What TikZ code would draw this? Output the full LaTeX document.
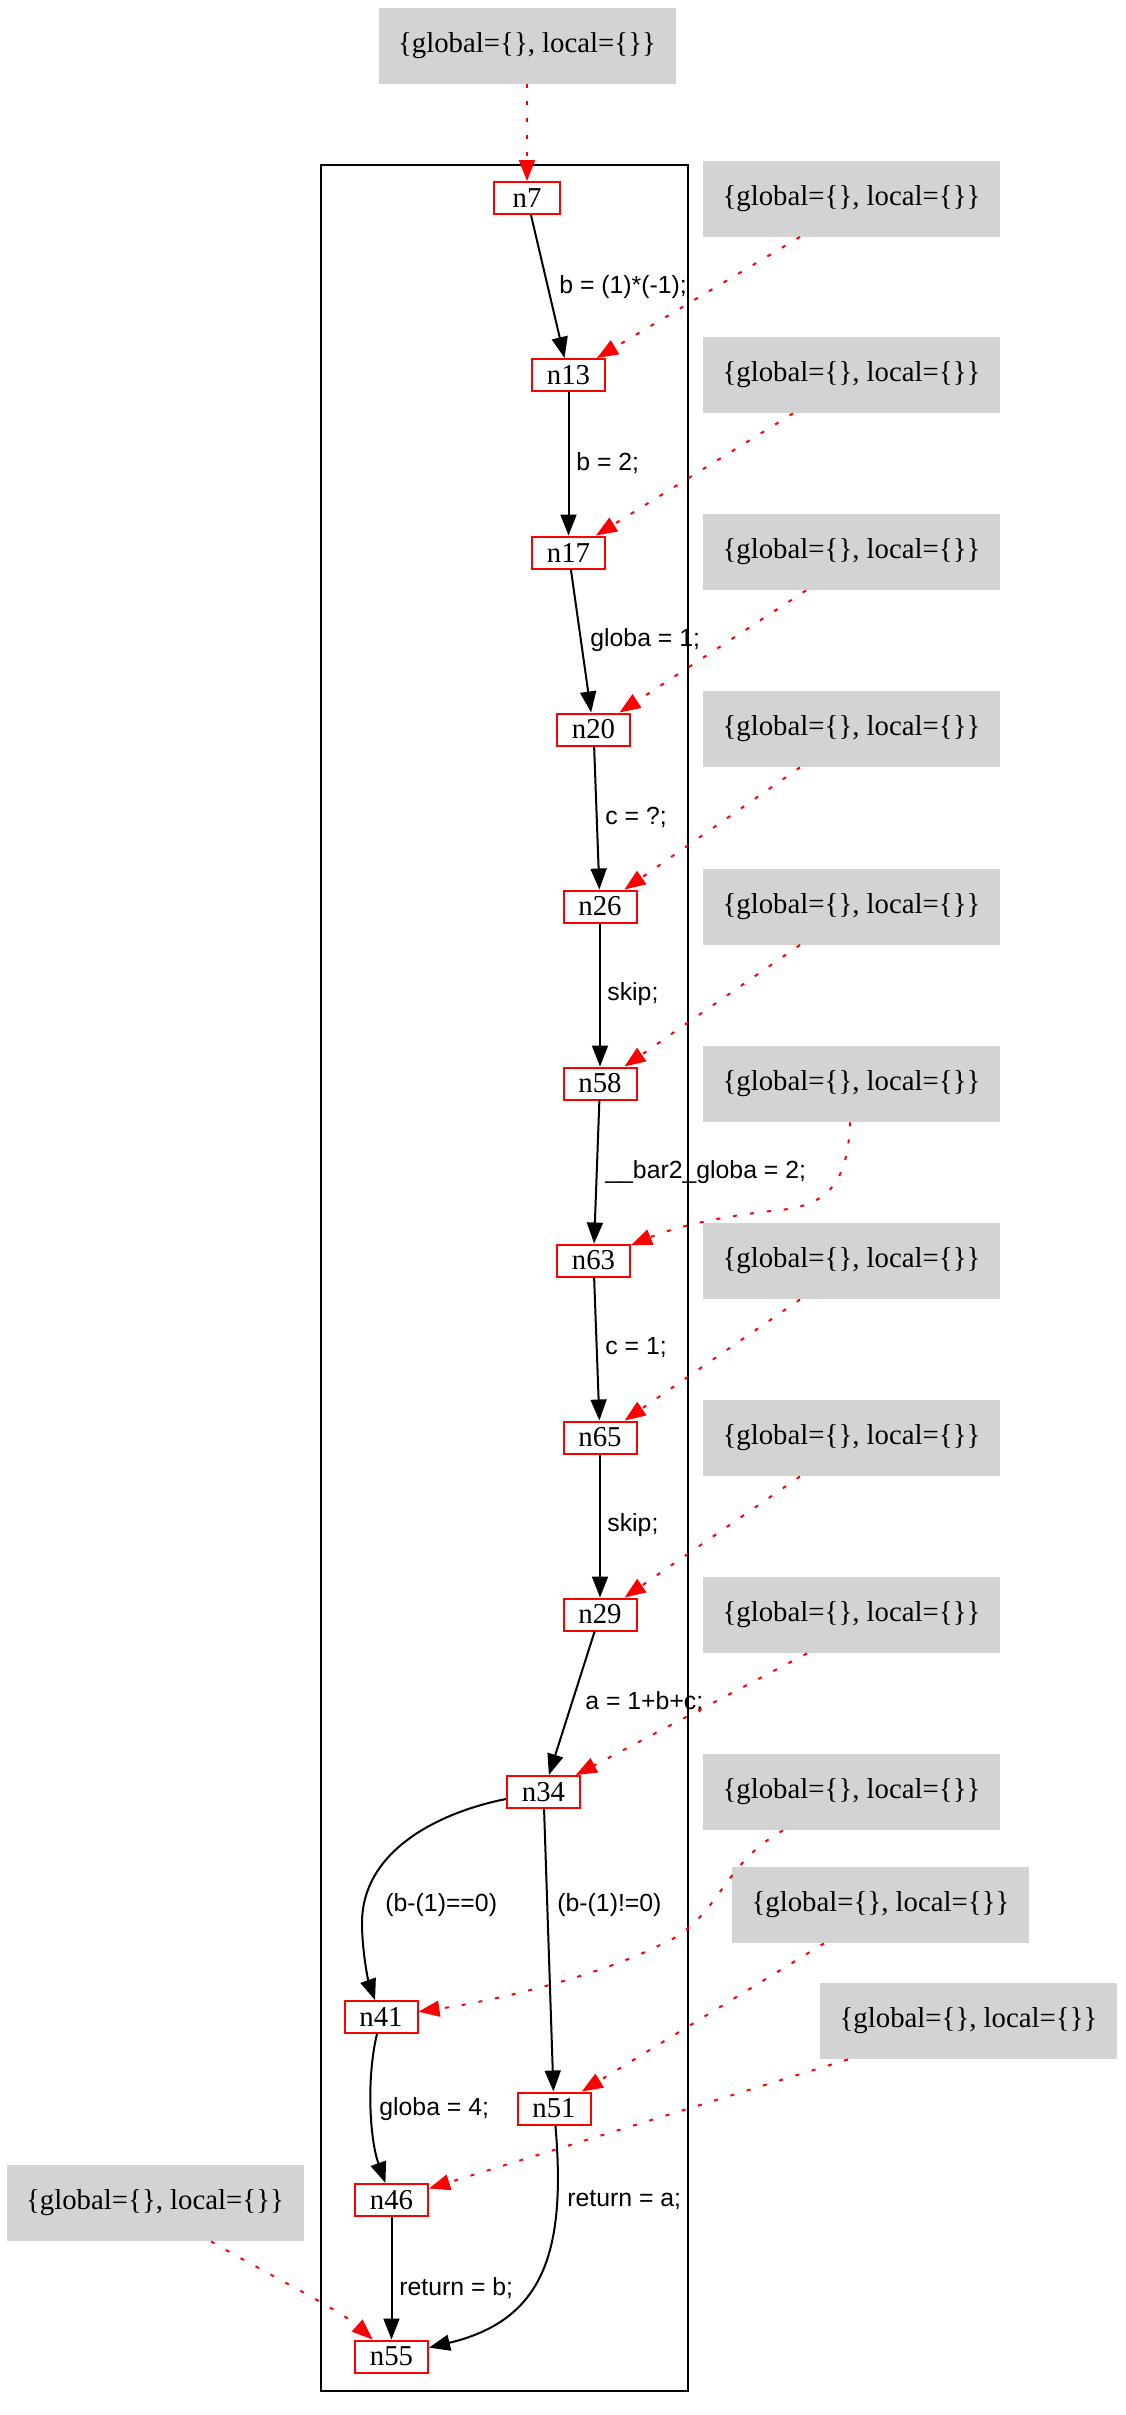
\documentclass[tikz,border=0pt]{standalone}
\usepackage{fontspec}
\setmainfont{Liberation Serif}
\newfontfamily\lsans{Liberation Sans}
\usetikzlibrary{arrows.meta}
\definecolor{stgray}{HTML}{D3D3D3}
\tikzset{
 cfg/.style={draw=red, line width=1pt, fill=white, minimum width=36.5pt, minimum height=16pt, inner sep=0pt, font=\fontsize{14.4}{16}\selectfont},
 stbox/.style={fill=stgray, minimum width=148.5pt, minimum height=38pt, inner sep=0pt, font=\fontsize{14.4}{16}\selectfont},
 flow/.style={draw=black, line width=1pt, -{Triangle[length=10.5pt,width=8pt]}},
 dep/.style={draw=red, line width=1pt, dash pattern=on 2pt off 6.5pt, -{Triangle[length=10.5pt,width=8pt]}, fill=none},
 lbl/.style={font=\lsans\fontsize{12.4}{14}\selectfont, inner sep=0pt, anchor=west},
}
\newcommand{\stt}{\{global=\{\}, local=\{\}\}}
\begin{document}
\begin{tikzpicture}[x=0.5pt,y=-0.5pt]
\useasboundingbox (0,0) rectangle (1125,2415);
% cluster
\draw[line width=1pt] (321,165) rectangle (688,2391);
% cfg nodes
\node[cfg, minimum width=33pt] (n7) at (527,198) {n7};
\node[cfg] (n13) at (568.5,375) {n13};
\node[cfg] (n17) at (568.5,552.5) {n17};
\node[cfg] (n20) at (593.5,729.5) {n20};
\node[cfg] (n26) at (600,906.5) {n26};
\node[cfg] (n58) at (600,1083.5) {n58};
\node[cfg] (n63) at (593.5,1260.5) {n63};
\node[cfg] (n65) at (600,1437.5) {n65};
\node[cfg] (n29) at (600,1614.5) {n29};
\node[cfg] (n34) at (543.5,1792) {n34};
\node[cfg] (n41) at (381,2017) {n41};
\node[cfg] (n51) at (554,2108.5) {n51};
\node[cfg] (n46) at (391.5,2200) {n46};
\node[cfg] (n55) at (391.5,2356.5) {n55};
% state boxes
\node[stbox] (g0) at (527,46) {\stt};
\node[stbox] (g1) at (851.5,198.5) {\stt};
\node[stbox] (g2) at (851.5,375) {\stt};
\node[stbox] (g3) at (851.5,552) {\stt};
\node[stbox] (g4) at (851.5,729) {\stt};
\node[stbox] (g5) at (851.5,906.5) {\stt};
\node[stbox] (g6) at (851.5,1084) {\stt};
\node[stbox] (g7) at (851.5,1261) {\stt};
\node[stbox] (g8) at (851.5,1438) {\stt};
\node[stbox] (g9) at (851.5,1615) {\stt};
\node[stbox] (g10) at (851.5,1792) {\stt};
\node[stbox] (g11) at (880.5,1905) {\stt};
\node[stbox] (g12) at (968.5,2021) {\stt};
\node[stbox] (gL) at (155,2203) {\stt};
% control flow edges
\draw[flow] (n7) -- (n13);
\draw[flow] (n13) -- (n17);
\draw[flow] (n17) -- (n20);
\draw[flow] (n20) -- (n26);
\draw[flow] (n26) -- (n58);
\draw[flow] (n58) -- (n63);
\draw[flow] (n63) -- (n65);
\draw[flow] (n65) -- (n29);
\draw[flow] (n29) -- (n34);
\draw[flow] ([yshift=-3.5pt]n34.west) .. controls (440,1812) and (362,1850) .. (362,1923) .. controls (362,1950) and (368,1980) .. (n41);
\draw[flow] (n34) -- (n51);
\draw[flow] (n41) .. controls (366,2080) and (370,2140) .. (n46);
\draw[flow] (n46) -- (n55);
\draw[flow] (n51) .. controls (566,2250) and (545,2320) .. (n55);
% edge labels
\node[lbl] (l1) at (559,287) {b = (1)*(-1);};
\node[lbl] (l2) at (576,463) {b = 2;};
\node[lbl] (l3) at (590,640) {globa = 1;};
\node[lbl] (l4) at (605,817) {c = ?;};
\node[lbl] (l5) at (607,994) {skip;};
\node[lbl] (l6) at (605,1172) {\_\_bar2\_globa = 2;};
\node[lbl] (l7) at (605,1348) {c = 1;};
\node[lbl] (l8) at (607,1525) {skip;};
\node[lbl] (l9) at (585,1702) {a = 1+b+c;};
\node[lbl] (l10) at (385,1905) {(b-(1)==0)};
\node[lbl] (l11) at (557,1905) {(b-(1)!=0)};
\node[lbl] (l12) at (379,2109) {globa = 4;};
\node[lbl] (l13) at (567,2200) {return = a;};
\node[lbl] (l14) at (399,2288) {return = b;};
% state edges
\draw[dep] (g0) -- (n7);
\draw[dep] ([xshift=-25.75pt]g1.south) -- (n13);
\draw[dep] ([xshift=-29.25pt]g2.south) -- (n17);
\draw[dep] ([xshift=-22.75pt]g3.south) -- (n20);
\draw[dep] ([xshift=-25.75pt]g4.south) -- (n26);
\draw[dep] ([xshift=-25.75pt]g5.south) -- (n58);
\draw[dep] ([xshift=-0.75pt]g6.south) .. controls (848,1180) and (830,1205) .. (780,1210) .. controls (730,1215) and (680,1225) .. (n63);
\draw[dep] ([xshift=-25.75pt]g7.south) -- (n65);
\draw[dep] ([xshift=-25.75pt]g8.south) -- (n29);
\draw[dep] ([xshift=-22.25pt]g9.south) -- (n34);
\draw[dep] ([xshift=-34.25pt]g10.south) .. controls (720,1865) and (720,1920) .. (660,1945) .. controls (600,1975) and (500,2000) .. (n41);
\draw[dep] ([xshift=-28.25pt]g11.south) -- (n51);
\draw[dep] ([xshift=-60.25pt]g12.south) -- (n46);
\draw[dep] ([xshift=28pt]gL.south) .. controls (260,2270) and (340,2310) .. (n55);
\end{tikzpicture}
\end{document}
